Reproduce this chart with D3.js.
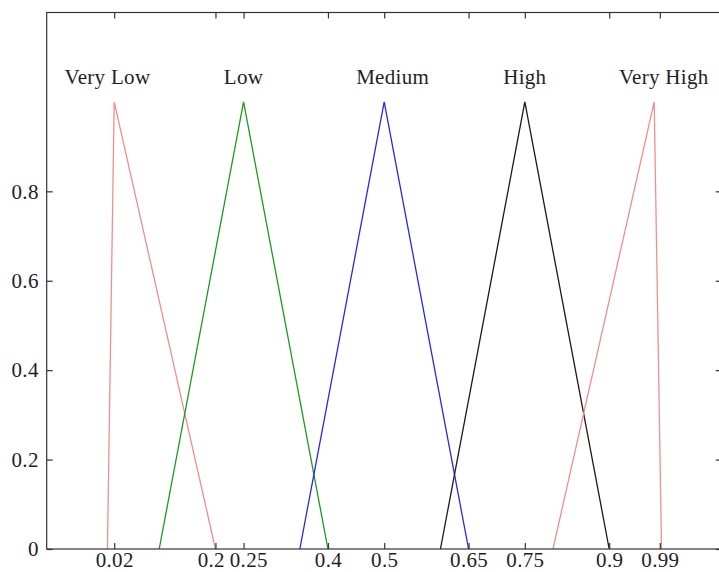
<!DOCTYPE html>
<html>
<head>
<meta charset="utf-8">
<script src="https://cdn.jsdelivr.net/npm/d3@7"></script>
<style>
  html, body { margin: 0; padding: 0; background: #fff; }
  svg { display: block; }
  text { font-family: "Liberation Serif", "Times New Roman", serif; }
</style>
</head>
<body>
<svg id="chart" width="719" height="572"></svg>
<script>
// ---- data ----
const setNames = ["Very Low", "Low", "Medium", "High", "Very High"];
const setColors = ["#f28e8e", "#1f9a1f", "#2828e6", "#1a1a1a", "#f28e8e"];
const veryLow  = [[0.008, 0], [0.02, 1], [0.2, 0]];
const low      = [[0.1, 0], [0.25, 1], [0.4, 0]];
const medium   = [[0.35, 0], [0.5, 1], [0.65, 0]];
const high     = [[0.6, 0], [0.75, 1], [0.9, 0]];
const veryHigh = [[0.8, 0], [0.98, 1], [0.993, 0]];
const seriesPoints = [veryLow, low, medium, high, veryHigh];
const labelX = [0.008, 0.25, 0.515, 0.75, 0.997];
const labelY = 1.04;
const xTickValues = [0.02, 0.2, 0.25, 0.4, 0.5, 0.65, 0.75, 0.9, 0.99];
const xTickLabels = ["0.02", "0.2", "0.25", "0.4", "0.5", "0.65", "0.75", "0.9", "0.99"];
const yTickValues = [0, 0.2, 0.4, 0.6, 0.8];
const yTickLabels = ["0", "0.2", "0.4", "0.6", "0.8"];
const xDomain = [-0.1, 1.1];
const yDomain = [0, 1.2];

// ---- layout ----
const svg = d3.select("#chart");
const mLeft = 46.7, mRight = 721.7, mTop = 12.5, mBottom = 549;
const x = d3.scaleLinear().domain(xDomain).range([mLeft, mRight]);
const y = d3.scaleLinear().domain(yDomain).range([mBottom, mTop]);
const axisColor = "#333";
const fontSize = 21;
const letterSpacing = "0.3px";

// series
const line = d3.line().x(d => x(d[0])).y(d => y(d[1]));
svg.append("g").selectAll("path")
  .data(seriesPoints)
  .join("path")
  .attr("d", d => line(d))
  .attr("fill", "none")
  .attr("stroke", (d, i) => setColors[i])
  .attr("stroke-width", 1.3)
  .attr("stroke-linejoin", "miter");

// frame
svg.append("rect")
  .attr("x", mLeft).attr("y", mTop)
  .attr("width", mRight - mLeft).attr("height", mBottom - mTop)
  .attr("fill", "none").attr("stroke", axisColor).attr("stroke-width", 1.2);

function styleAxis(g) {
  g.select(".domain").remove();
  g.selectAll(".tick line").attr("stroke", axisColor).attr("stroke-width", 1.2);
  g.selectAll(".tick text")
    .attr("fill", "#1e1e28")
    .style("font-size", fontSize + "px")
    .style("letter-spacing", letterSpacing)
    .style("font-family", "'Liberation Serif', 'Times New Roman', serif");
}

// bottom axis
const gBottom = svg.append("g")
  .attr("transform", `translate(0,${mBottom})`)
  .call(d3.axisBottom(x).tickValues(xTickValues)
    .tickFormat((d, i) => xTickLabels[i]).tickSizeInner(-6).tickSizeOuter(0).tickPadding(3))
  .call(styleAxis);

// nudge neighbouring bottom labels apart if they collide
(function separate() {
  const texts = gBottom.selectAll(".tick text").nodes();
  const items = texts.map(t => {
    const tx = d3.select(t.parentNode).attr("transform");
    const cx = +/translate\(([-\d.]+)/.exec(tx)[1];
    return { node: t, cx, w: t.getComputedTextLength(), dx: 0 };
  });
  const gap = 5;
  for (let k = 0; k < 5; k++) {
    for (let i = 0; i < items.length - 1; i++) {
      const a = items[i], b = items[i + 1];
      const overlap = (a.cx + a.dx + a.w / 2 + gap) - (b.cx + b.dx - b.w / 2);
      if (overlap > 0) { a.dx -= overlap / 2; b.dx += overlap / 2; }
    }
  }
  items.forEach(it => d3.select(it.node).attr("x", it.dx));
})();

// top axis (ticks only)
svg.append("g")
  .attr("transform", `translate(0,${mTop})`)
  .call(d3.axisTop(x).tickValues(xTickValues).tickFormat("").tickSizeInner(-6).tickSizeOuter(0))
  .call(styleAxis);

// left axis
svg.append("g")
  .attr("transform", `translate(${mLeft},0)`)
  .call(d3.axisLeft(y).tickValues(yTickValues)
    .tickFormat((d, i) => yTickLabels[i]).tickSizeInner(-6).tickSizeOuter(0).tickPadding(8))
  .call(styleAxis);

// right axis (ticks only)
svg.append("g")
  .attr("transform", `translate(${mRight},0)`)
  .call(d3.axisRight(y).tickValues(yTickValues).tickFormat("").tickSizeInner(-6).tickSizeOuter(0))
  .call(styleAxis);

// set labels
svg.append("g").selectAll("text")
  .data(setNames)
  .join("text")
  .attr("x", (d, i) => x(labelX[i]))
  .attr("y", y(labelY))
  .attr("text-anchor", "middle")
  .attr("fill", "#1e1e28")
  .style("font-size", fontSize + "px")
  .style("letter-spacing", letterSpacing)
  .text(d => d);
</script>
</body>
</html>
